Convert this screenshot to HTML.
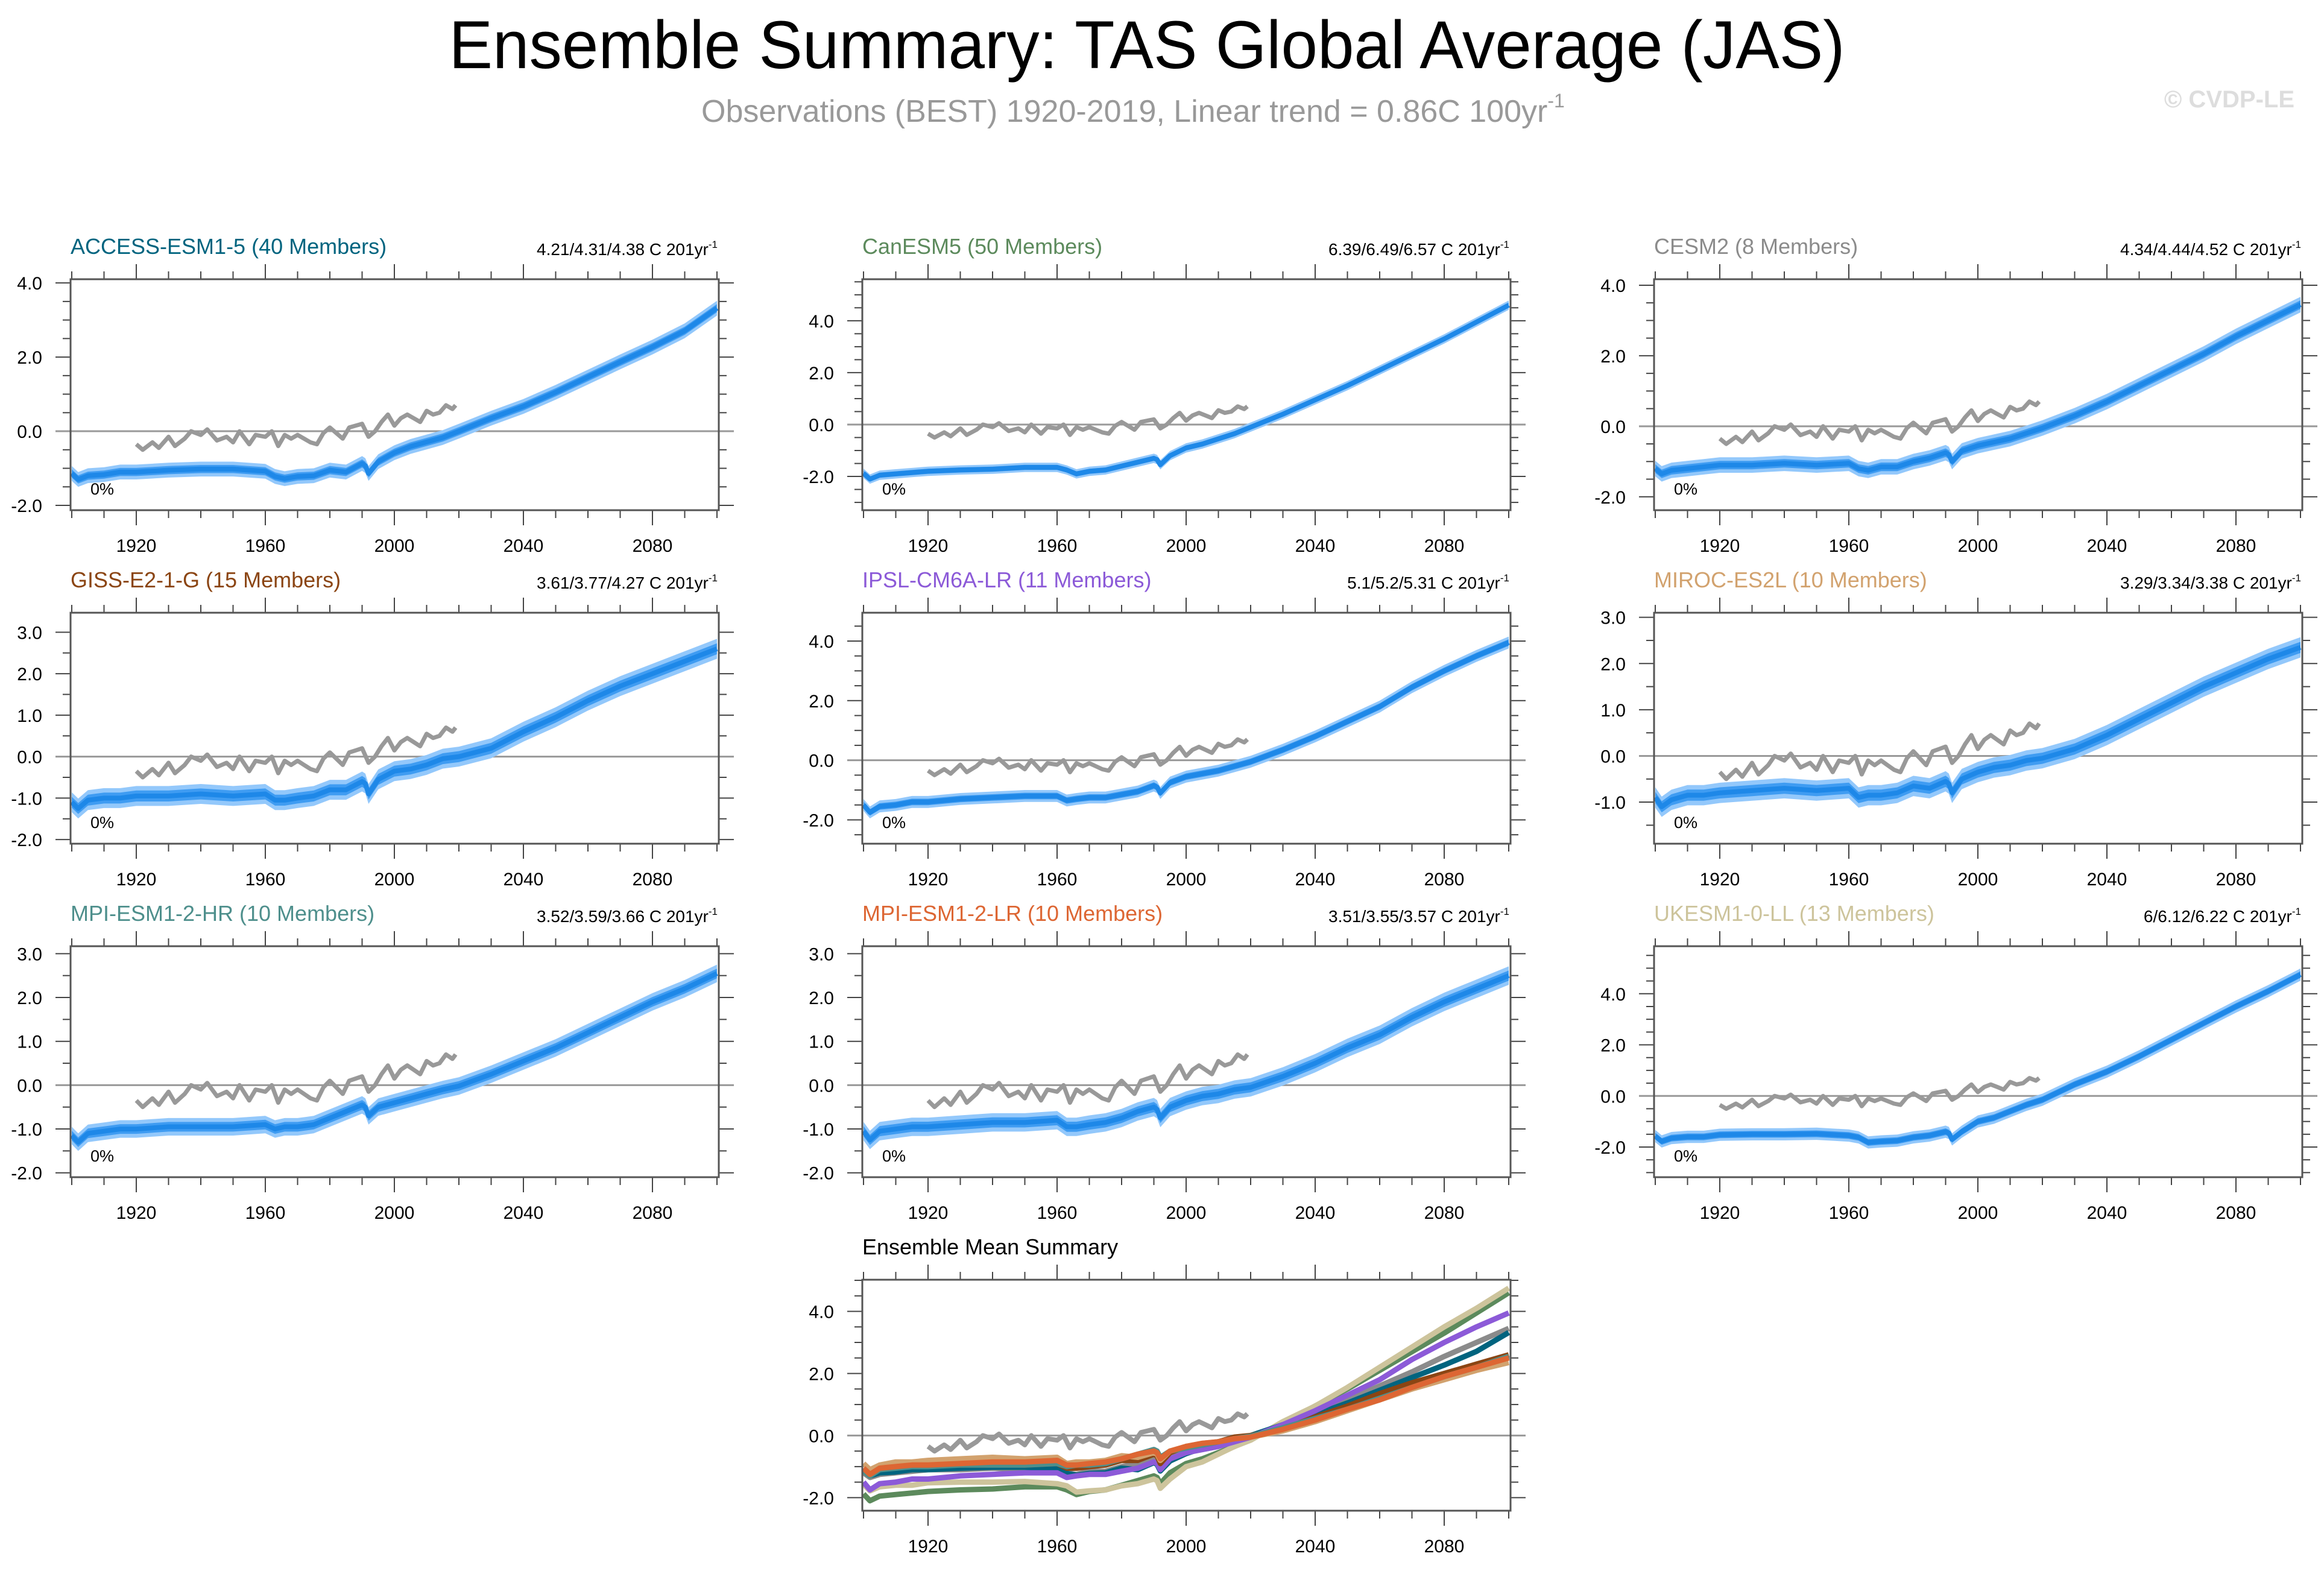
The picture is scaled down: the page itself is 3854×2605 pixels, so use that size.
<!DOCTYPE html>
<html><head><meta charset="utf-8"><style>
html,body{margin:0;padding:0;background:#fff;}
svg{display:block;font-family:"Liberation Sans",Arial,sans-serif;}
</style></head><body>
<svg id="fig" width="3854" height="2605" viewBox="0 0 3854 2605" xmlns="http://www.w3.org/2000/svg">
<text x="1902" y="113" font-size="112" text-anchor="middle" textLength="2315" lengthAdjust="spacingAndGlyphs" fill="#000">Ensemble Summary: TAS Global Average (JAS)</text>
<text x="1163" y="202" font-size="52" fill="#999">Observations (BEST) 1920-2019, Linear trend = 0.86C 100yr<tspan font-size="32" dy="-24">-1</tspan></text>
<text x="3805" y="178" font-size="40" text-anchor="end" fill="#ddd" font-weight="bold">© CVDP-LE</text>
</svg>
<script>
// ---- data ----
const years = [1900,1902,1905,1910,1915,1920,1930,1940,1950,1960,1963,1966,1970,1975,1980,1985,1990,1991,1992,1995,2000,2005,2010,2015,2020,2030,2040,2050,2060,2070,2080,2090,2100];
const obsYears = [1920,1922,1925,1927,1930,1932,1935,1937,1940,1942,1945,1948,1950,1952,1955,1957,1960,1962,1964,1966,1968,1970,1972,1974,1976,1978,1980,1982,1984,1986,1988,1990,1992,1994,1996,1998,2000,2002,2004,2006,2008,2010,2012,2014,2016,2018,2019];
const obsVals = [-0.35,-0.5,-0.3,-0.45,-0.15,-0.4,-0.2,0.0,-0.1,0.05,-0.25,-0.15,-0.3,0.0,-0.35,-0.1,-0.15,0.0,-0.4,-0.1,-0.2,-0.1,-0.2,-0.3,-0.35,-0.05,0.1,-0.05,-0.2,0.1,0.15,0.2,-0.15,0.0,0.25,0.45,0.15,0.35,0.45,0.35,0.25,0.55,0.45,0.5,0.7,0.6,0.7];
const accessMean = [-1.14,-1.3,-1.2,-1.17,-1.1,-1.1,-1.05,-1.02,-1.02,-1.08,-1.22,-1.28,-1.22,-1.2,-1.05,-1.1,-0.87,-0.93,-1.14,-0.82,-0.58,-0.41,-0.29,-0.17,0.0,0.35,0.67,1.05,1.46,1.87,2.27,2.71,3.32];
const canesmMean = [-1.88,-2.1,-1.95,-1.9,-1.85,-1.8,-1.75,-1.72,-1.65,-1.65,-1.75,-1.9,-1.8,-1.75,-1.6,-1.45,-1.3,-1.35,-1.55,-1.2,-0.9,-0.75,-0.55,-0.35,-0.1,0.4,0.95,1.5,2.1,2.7,3.3,3.95,4.6];
const cesmMean = [-1.2,-1.35,-1.25,-1.2,-1.15,-1.1,-1.1,-1.05,-1.1,-1.05,-1.2,-1.25,-1.15,-1.15,-1.0,-0.9,-0.75,-0.8,-1.0,-0.7,-0.55,-0.45,-0.35,-0.2,-0.05,0.3,0.7,1.15,1.6,2.05,2.55,3.0,3.45];
const gissMean = [-1.1,-1.25,-1.05,-1.0,-1.0,-0.95,-0.95,-0.9,-0.95,-0.9,-1.05,-1.05,-1.0,-0.95,-0.8,-0.8,-0.6,-0.65,-0.9,-0.55,-0.35,-0.3,-0.2,-0.05,0.0,0.2,0.6,0.95,1.35,1.7,2.0,2.3,2.6];
const ipslMean = [-1.5,-1.75,-1.55,-1.5,-1.4,-1.4,-1.3,-1.25,-1.2,-1.2,-1.35,-1.3,-1.25,-1.25,-1.15,-1.05,-0.85,-0.9,-1.1,-0.75,-0.55,-0.45,-0.35,-0.2,-0.05,0.35,0.8,1.3,1.8,2.45,3.0,3.5,3.95];
const mirocMean = [-0.9,-1.1,-0.95,-0.85,-0.85,-0.8,-0.75,-0.7,-0.75,-0.7,-0.9,-0.85,-0.85,-0.8,-0.65,-0.7,-0.55,-0.6,-0.8,-0.5,-0.35,-0.25,-0.2,-0.1,-0.05,0.15,0.45,0.8,1.15,1.5,1.8,2.1,2.35];
const mpihrMean = [-1.15,-1.3,-1.1,-1.05,-1.0,-1.0,-0.95,-0.95,-0.95,-0.9,-1.0,-0.95,-0.95,-0.9,-0.75,-0.6,-0.45,-0.5,-0.7,-0.5,-0.4,-0.3,-0.2,-0.1,-0.02,0.25,0.55,0.85,1.2,1.55,1.9,2.2,2.55];
const mpilrMean = [-1.05,-1.25,-1.05,-1.0,-0.95,-0.95,-0.9,-0.85,-0.85,-0.8,-0.95,-0.95,-0.9,-0.85,-0.75,-0.6,-0.5,-0.55,-0.75,-0.5,-0.35,-0.25,-0.2,-0.1,-0.05,0.2,0.5,0.85,1.15,1.55,1.9,2.2,2.5];
const ukesmMean = [-1.57,-1.78,-1.65,-1.6,-1.6,-1.52,-1.5,-1.5,-1.48,-1.55,-1.62,-1.82,-1.78,-1.75,-1.62,-1.55,-1.4,-1.45,-1.7,-1.4,-1.0,-0.85,-0.6,-0.35,-0.15,0.45,0.95,1.55,2.2,2.85,3.5,4.1,4.75];
const modelNames = ["ACCESS-ESM1-5 (40 Members)","CanESM5 (50 Members)","CESM2 (8 Members)","GISS-E2-1-G (15 Members)","IPSL-CM6A-LR (11 Members)","MIROC-ES2L (10 Members)","MPI-ESM1-2-HR (10 Members)","MPI-ESM1-2-LR (10 Members)","UKESM1-0-LL (13 Members)"];
const trendLabels = ["4.21/4.31/4.38 C 201yr","6.39/6.49/6.57 C 201yr","4.34/4.44/4.52 C 201yr","3.61/3.77/4.27 C 201yr","5.1/5.2/5.31 C 201yr","3.29/3.34/3.38 C 201yr","3.52/3.59/3.66 C 201yr","3.51/3.55/3.57 C 201yr","6/6.12/6.22 C 201yr"];
const spreads = [0.2,0.18,0.22,0.24,0.2,0.22,0.2,0.21,0.24];
const xTicks = [1920,1960,2000,2040,2080];

const modelMeans = [accessMean,canesmMean,cesmMean,gissMean,ipslMean,mirocMean,mpihrMean,mpilrMean,ukesmMean];
const colors = ["#00647f","#5c8a5c","#8b8b8b","#8b4513","#8c5ad8","#d2a26e","#4e8f8c","#dd6633","#cdc49c"];
const slugs = ["access-esm1-5","canesm5","cesm2","giss-e2-1-g","ipsl-cm6a-lr","miroc-es2l","mpi-esm1-2-hr","mpi-esm1-2-lr","ukesm1-0-ll"];
const colX = [117,1430,2743], rowY = [463,1016,1569];
const W = 1075, H = 383;
const yRanges = [[-2.13,4.1,2],[-3.3,5.6,2],[-2.38,4.17,2],[-2.1,3.47,1],[-2.8,4.95,2],[-1.9,3.1,1],[-2.1,3.17,1],[-2.1,3.17,1],[-3.18,5.86,2]];

const svg = document.getElementById('fig');
const NS = "http://www.w3.org/2000/svg";
function mk(tag, attrs, parent){
  const e = document.createElementNS(NS, tag);
  for (const k in attrs) e.setAttribute(k, attrs[k]);
  (parent||svg).appendChild(e);
  return e;
}

function drawAxes(g, L, T, ymin, ymax, step, slug){
  const xs = yr => L + 2 + (yr-1900)*(W-5)/200;
  const ys = v => T + (ymax - v)/(ymax-ymin)*H;
  const clipId = 'clip-'+slug;
  const cp = mk('clipPath',{id:clipId},g);
  mk('rect',{x:L,y:T,width:W,height:H},cp);
  for (let yr=1900; yr<=2100; yr+=10){
    const major = xTicks.indexOf(yr)>=0;
    const len = major?25:13;
    const x = xs(yr);
    const t1 = mk('line',{x1:x,x2:x,y1:T,y2:T-len,stroke:'#444','stroke-width':2},g);
    
    
    const t2 = mk('line',{x1:x,x2:x,y1:T+H,y2:T+H+len,stroke:'#444','stroke-width':2},g);
    
    
  }
  xTicks.forEach(yr=>{
    const t = mk('text',{x:xs(yr),y:T+H+69,'font-size':30,'text-anchor':'middle',fill:'#000'},g);
    t.textContent = yr;
    
    
  });
  const start = Math.ceil(ymin/0.5)*0.5;
  for (let v=start; v<=ymax+1e-9; v+=0.5){
    const major = Math.abs(v/step - Math.round(v/step))<1e-6;
    const len = major?25:13;
    const y = ys(v);
    const a = mk('line',{x1:L,x2:L-len,y1:y,y2:y,stroke:'#444','stroke-width':2},g);
    
    
    const b = mk('line',{x1:L+W,x2:L+W+len,y1:y,y2:y,stroke:'#444','stroke-width':2},g);
    
    
    if (major && y<=T+H+2){
      const t = mk('text',{x:L-47,y:y+11,'font-size':30,'text-anchor':'end',fill:'#000'},g);
      t.textContent = v.toFixed(1);
      
      
    }
  }
  const z = mk('line',{x1:L-25,x2:L+W+25,y1:ys(0),y2:ys(0),stroke:'#999','stroke-width':3},g);
  
  
  return {xs, ys, clipId};
}

function pathFrom(xsArr, vals, xs, ys){
  return vals.map((v,i)=>(i?'L':'M')+xs(xsArr[i]).toFixed(1)+','+ys(v).toFixed(1)).join(' ');
}
function bandFrom(vals, s, xs, ys){
  const up = vals.map((v,i)=>xs(years[i]).toFixed(1)+','+ys(v+s).toFixed(1));
  const dn = vals.map((v,i)=>xs(years[i]).toFixed(1)+','+ys(v-s).toFixed(1)).reverse();
  return up.concat(dn).join(' ');
}
function drawFrame(g,L,T){
  const f = mk('rect',{x:L,y:T,width:W,height:H,fill:'none',stroke:'#555','stroke-width':3},g);
  
  
}

modelMeans.forEach((mean, i)=>{
  const L = colX[i%3], T = rowY[Math.floor(i/3)];
  const [ymin,ymax,step] = yRanges[i];
  const g = mk('g',{});
  
  
  const ax = drawAxes(g, L, T, ymin, ymax, step, slugs[i]);
  const cg = mk('g',{'clip-path':'url(#'+ax.clipId+')'},g);
  const b1 = mk('polygon',{points:bandFrom(mean, spreads[i], ax.xs, ax.ys),fill:'#93c8fb'},cg);
  
  
  const b2 = mk('polygon',{points:bandFrom(mean, spreads[i]*0.55, ax.xs, ax.ys),fill:'#3f9cf2'},cg);
  
  
  const ml = mk('path',{d:pathFrom(years, mean, ax.xs, ax.ys),fill:'none',stroke:'#1e88e8','stroke-width':8,'stroke-linejoin':'round'},cg);
  
  
  const ol = mk('path',{d:pathFrom(obsYears, obsVals, ax.xs, ax.ys),fill:'none',stroke:'#999','stroke-width':7,'stroke-linejoin':'round'},cg);
  
  
  drawFrame(g,L,T);
  const tt = mk('text',{x:L,y:T-42,'font-size':36,fill:colors[i]},g);
  tt.textContent = modelNames[i];
  
  
  const st = mk('text',{x:L+W-2,y:T-40,'font-size':28,'text-anchor':'end',fill:'#000'},g);
  st.textContent = trendLabels[i];
  const sup = mk('tspan',{'font-size':17,dy:-12},st);
  sup.textContent = '-1';
  
  
  const pc = mk('text',{x:L+33,y:T+H-26,'font-size':27,fill:'#000'},g);
  pc.textContent = '0%';
  
  
});

(function(){
  const L = 1430, T = 2122;
  const g = mk('g',{});
  
  
  const ax = drawAxes(g, L, T, -2.42, 5.02, 2, 'summary');
  const cg = mk('g',{'clip-path':'url(#'+ax.clipId+')'},g);
  const ol = mk('path',{d:pathFrom(obsYears, obsVals, ax.xs, ax.ys),fill:'none',stroke:'#999','stroke-width':8,'stroke-linejoin':'round'},cg);
  
  
  [1,8,2,0,4,3,5,6,7].forEach(i=>{
    const p = mk('path',{d:pathFrom(years, modelMeans[i], ax.xs, ax.ys),fill:'none',stroke:colors[i],'stroke-width':9,'stroke-linejoin':'round'},cg);
    
    
  });
  drawFrame(g,L,T);
  const tt = mk('text',{x:L,y:T-42,'font-size':36,fill:'#000'},g);
  tt.textContent = 'Ensemble Mean Summary';
  
  
})();
</script>
</body></html>
